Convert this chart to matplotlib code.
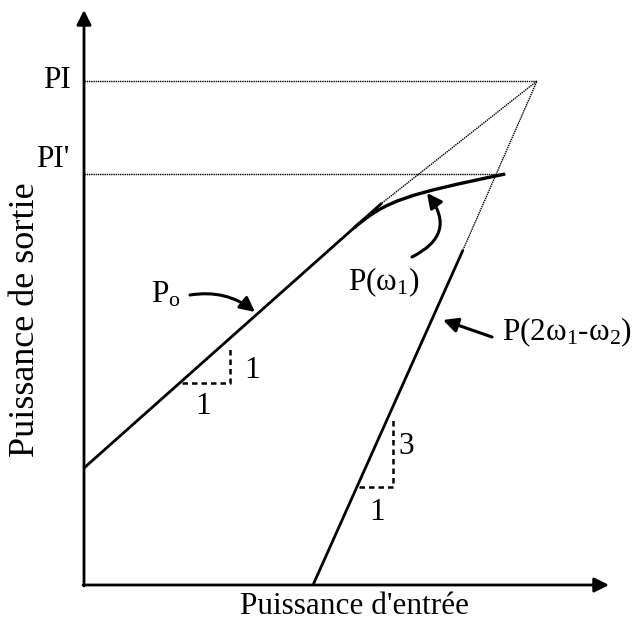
import numpy as np
import matplotlib
matplotlib.use("Agg")
import matplotlib.pyplot as plt
from matplotlib.path import Path
from matplotlib.patches import PathPatch

plt.rcParams['font.family'] = ['Liberation Serif', 'DejaVu Serif']
plt.rcParams['mathtext.fontset'] = 'custom'
plt.rcParams['mathtext.rm'] = 'Liberation Serif'
plt.rcParams['mathtext.it'] = 'Liberation Serif:italic'

# schematic values (input / output power, arbitrary dB units)
x_max, y_max = 52.5, 57.5
ip = (45.3, 50.4)            # third order intercept (PI)
pi_prime = 41.1              # saturated output level (PI')
po_x = [0.0, 29.8]           # fundamental, linear part
po_y = [11.7, 38.2]
sat_x = [27.0, 30.2, 32.5, 42.1]   # fundamental, compression (bezier)
sat_y = [35.7, 38.5, 39.1, 41.1]
im3_x = [22.9, 37.9]         # third order product, solid part
im3_y = [0.0, 33.5]
tri1_x = [9.8, 14.6, 14.6]   # slope 1 triangle
tri1_y = [20.2, 20.2, 23.7]
tri3_x = [27.5, 30.9, 30.9]  # slope 3 triangle
tri3_y = [9.8, 9.8, 16.8]

fs = 22.5
lw = 2.0
dot = dict(color='black', lw=1.0, linestyle=(0, (1, 0.6)))
dash = dict(color='black', lw=1.8, linestyle=(0, (2.2, 1.6)))


def main():
    fig = plt.figure(figsize=(6.34, 6.23), dpi=100)
    ax = fig.add_axes([0, 0, 1, 1])
    ax.set_xlim(-8.4, 55.0)
    ax.set_ylim(-3.8, 58.5)
    ax.axis('off')

    # axes with arrow heads
    ax.annotate('', xy=(x_max, 0), xytext=(-0.1, 0),
                arrowprops=dict(arrowstyle='-|>', color='black', lw=2.0,
                                mutation_scale=22, shrinkA=0, shrinkB=0))
    ax.annotate('', xy=(0, y_max), xytext=(0, -0.1),
                arrowprops=dict(arrowstyle='-|>', color='black', lw=2.0,
                                mutation_scale=22, shrinkA=0, shrinkB=0))

    # dotted guides
    ax.plot([0, ip[0]], [ip[1], ip[1]], **dot)
    ax.plot([0, sat_x[-1]], [pi_prime, pi_prime], **dot)
    ax.plot([po_x[1], ip[0]], [po_y[1], ip[1]], **dot)
    ax.plot([im3_x[1], ip[0]], [im3_y[1], ip[1]], **dot)

    # curves
    ax.plot(po_x, po_y, color='black', lw=lw, solid_capstyle='butt')
    ax.plot(im3_x, im3_y, color='black', lw=lw, solid_capstyle='butt')
    path = Path(np.column_stack([sat_x, sat_y]),
                [Path.MOVETO, Path.CURVE4, Path.CURVE4, Path.CURVE4])
    ax.add_patch(PathPatch(path, facecolor='none', edgecolor='black', lw=2.4))

    # slope triangles
    ax.plot(tri1_x, tri1_y, **dash)
    ax.plot(tri3_x, tri3_y, **dash)
    ax.text(16.8, 21.5, '1', fontsize=fs, ha='center', va='center')
    ax.text(11.9, 17.8, '1', fontsize=fs, ha='center', va='center')
    ax.text(32.2, 13.8, '3', fontsize=fs, ha='center', va='center')
    ax.text(29.3, 7.2, '1', fontsize=fs, ha='center', va='center')

    # levels
    ax.text(-1.3, ip[1], 'PI', fontsize=fs, ha='right', va='center')
    ax.text(-1.5, 42.5, "PI'", fontsize=fs, ha='right', va='center')

    # axis titles
    ax.text(27.1, -2.1, "Puissance d'entrée", fontsize=fs, ha='center', va='center')
    ax.text(-5.8, 26.5, 'Puissance de sortie', fontsize=26, ha='center',
            va='center', rotation=90)

    # curve labels and pointers
    head = dict(arrowstyle='-|>', color='black', lw=2.2, mutation_scale=22,
                shrinkA=0, shrinkB=0)
    ax.text(6.7, 29.0, r'P$_\mathrm{o}$', fontsize=fs, ha='left', va='center')
    ax.annotate('', xy=(17.1, 27.3), xytext=(10.6, 29.0),
                arrowprops=dict(connectionstyle='arc3,rad=-0.22', **head))
    ax.text(30.0, 30.3, 'P(ω$_1$)', fontsize=fs, ha='center', va='center')
    ax.annotate('', xy=(34.3, 39.2), xytext=(32.8, 32.8),
                arrowprops=dict(connectionstyle='arc3,rad=0.6', **head))
    ax.text(41.8, 25.3, 'P(2ω$_1$-ω$_2$)', fontsize=fs, ha='left',
            va='center')
    ax.annotate('', xy=(35.9, 26.5), xytext=(40.8, 24.8),
                arrowprops=dict(connectionstyle='arc3,rad=0', **head))

    fig.savefig('out.png', dpi=100)


if __name__ == '__main__':
    main()
